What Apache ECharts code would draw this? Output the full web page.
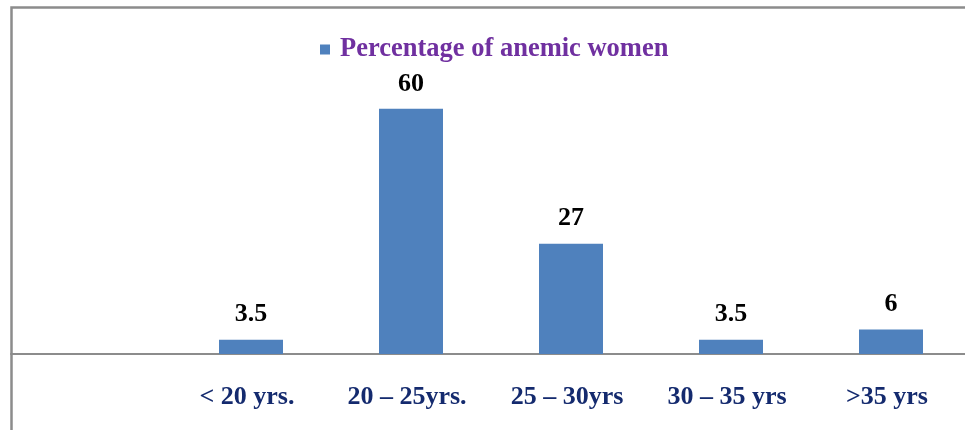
<!DOCTYPE html>
<html>
<head>
<meta charset="utf-8">
<script src="https://cdn.jsdelivr.net/npm/echarts@6/dist/echarts.min.js"></script>
<style>html,body{margin:0;padding:0;background:#fff;overflow:hidden;width:965px;height:430px}#c{width:980px;height:430px}</style>
</head>
<body>
<div id="c"></div>
<script>
const categories = ['', '< 20 yrs.', '20 – 25yrs.', '25 – 30yrs', '30 – 35 yrs', '>35 yrs'];
const values = ['-', 3.5, 60, 27, 3.5, 6];
const seriesName = 'Percentage of anemic women';

const chart = echarts.init(document.getElementById('c'));
chart.setOption({
  animation: false,
  backgroundColor: '#fff',
  graphic: [{
    type: 'rect', left: 9, top: 5, z: 100,
    shape: { x: 0, y: 0, width: 1000, height: 500 },
    style: { fill: 'none', stroke: '#8c8c8c', lineWidth: 2.5 }
  }],
  legend: {
    data: [seriesName],
    left: 315, top: 31,
    itemWidth: 10, itemHeight: 10, itemGap: 15,
    icon: 'rect',
    textStyle: { fontFamily: 'Liberation Serif', fontWeight: 'bold', fontSize: 26.5, color: '#7030A0', padding: [0, 0, 0, 5] }
  },
  grid: { left: 11, top: 68, width: 960, bottom: 76, containLabel: false },
  xAxis: {
    type: 'category', data: categories,
    axisLine: { show: true, lineStyle: { color: '#8c8c8c', width: 2 } },
    axisTick: { show: false },
    axisLabel: { margin: 30, interval: 0, padding: [0, 8, 0, 0], fontFamily: 'Liberation Serif', fontWeight: 'bold', fontSize: 26, color: '#142A6E' }
  },
  yAxis: { type: 'value', min: 0, max: 70, show: false, splitLine: { show: false } },
  series: [{
    name: seriesName, type: 'bar', data: values, barWidth: '40%',
    itemStyle: { color: '#4F81BD' },
    label: { show: true, position: 'top', distance: 12, fontFamily: 'Liberation Serif', fontWeight: 'bold', fontSize: 26, color: '#000' }
  }]
});
</script>
</body>
</html>
